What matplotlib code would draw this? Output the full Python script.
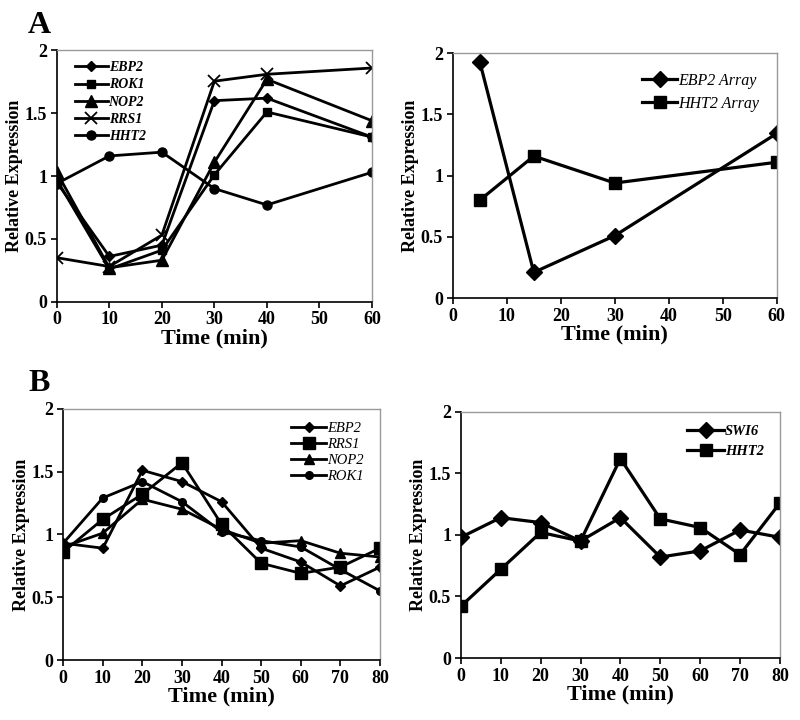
import matplotlib
matplotlib.use("Agg")
import matplotlib.pyplot as plt

plt.rcParams['font.family'] = ['Liberation Serif', 'DejaVu Serif']

# Panel A, left: time course
a1_time = [0, 10, 20, 30, 40, 60]
a1_ebp2 = [0.95, 0.36, 0.45, 1.60, 1.62, 1.31]
a1_rok1 = [0.97, 0.26, 0.41, 1.01, 1.51, 1.31]
a1_nop2 = [1.03, 0.27, 0.33, 1.11, 1.77, 1.44]
a1_rrs1 = [0.35, 0.28, 0.53, 1.755, 1.81, 1.86]
a1_hht2 = [0.94, 1.16, 1.19, 0.90, 0.77, 1.03]

# Panel A, right: array data
a2_time = [5, 15, 30, 60]
a2_ebp2 = [1.93, 0.21, 0.51, 1.345]
a2_hht2 = [0.80, 1.16, 0.94, 1.11]

# Panel B, left
b1_time = [0, 10, 20, 30, 40, 50, 60, 70, 80]
b1_ebp2 = [0.93, 0.89, 1.51, 1.42, 1.26, 0.89, 0.78, 0.59, 0.74]
b1_rrs1 = [0.86, 1.12, 1.32, 1.57, 1.08, 0.77, 0.69, 0.74, 0.89]
b1_nop2 = [0.90, 1.01, 1.28, 1.20, 1.04, 0.93, 0.95, 0.85, 0.82]
b1_rok1 = [0.93, 1.29, 1.42, 1.26, 1.02, 0.95, 0.90, 0.72, 0.55]

# Panel B, right
b2_time = [0, 10, 20, 30, 40, 50, 60, 70, 80]
b2_swi6 = [0.98, 1.14, 1.10, 0.95, 1.14, 0.82, 0.87, 1.04, 0.98]
b2_hht2 = [0.42, 0.72, 1.02, 0.95, 1.62, 1.13, 1.06, 0.84, 1.26]

fig = plt.figure(figsize=(8, 7.2), dpi=100)

LW = 2.0


def style_axes(ax, xmax, xstep):
    ax.set_xlim(0, xmax)
    ax.set_ylim(0, 2)
    ax.set_xticks(range(0, xmax + 1, xstep))
    ax.set_yticks([0, 0.5, 1, 1.5, 2])
    ax.set_yticklabels(['0', '0.5', '1', '1.5', '2'])
    for s in ('top', 'right'):
        ax.spines[s].set_color('#999999')
        ax.spines[s].set_linewidth(1.0)
    for s in ('left', 'bottom'):
        ax.spines[s].set_color('black')
        ax.spines[s].set_linewidth(1.2)
    ax.tick_params(direction='out', length=4, width=1.2, labelsize=13, pad=3)
    for lab in ax.get_xticklabels() + ax.get_yticklabels():
        lab.set_fontweight('bold')
    ax.set_xlabel('Time (min)', fontsize=16, fontweight='bold', labelpad=0)
    ax.set_ylabel('Relative Expression', fontsize=13, fontweight='bold', labelpad=1)


# ---- Panel A left
ax1 = fig.add_axes([0.071, 0.581, 0.394, 0.349])
ax1.plot(a1_time, a1_ebp2, color='black', lw=LW, marker='D', ms=5, label='EBP2')
ax1.plot(a1_time, a1_rok1, color='black', lw=LW, marker='s', ms=6, label='ROK1')
ax1.plot(a1_time, a1_nop2, color='black', lw=LW, marker='^', ms=8, label='NOP2')
ax1.plot(a1_time, a1_rrs1, color='black', lw=LW, marker='x', ms=9, mew=1.3, label='RRS1')
ax1.plot(a1_time, a1_hht2, color='black', lw=LW, marker='o', ms=6.5, label='HHT2')
style_axes(ax1, 60, 10)
ax1.legend(loc='upper left', bbox_to_anchor=(0.03, 0.99), frameon=False,
           prop={'style': 'italic', 'weight': 'bold', 'size': 10},
           handlelength=2.4, handletextpad=0.05, labelspacing=0.3,
           borderaxespad=0.2)

# ---- Panel A right
ax2 = fig.add_axes([0.566, 0.586, 0.405, 0.340])
ax2.plot(a2_time, a2_ebp2, color='black', lw=LW + 0.3, marker='D', ms=8, label='EBP2 Array')
ax2.plot(a2_time, a2_hht2, color='black', lw=LW + 0.3, marker='s', ms=9, label='HHT2 Array')
style_axes(ax2, 60, 10)
ax2.legend(loc='upper right', bbox_to_anchor=(0.99, 0.98), frameon=False,
           prop={'style': 'italic', 'size': 11.5},
           handlelength=2.2, handletextpad=0.05, labelspacing=0.45)

# ---- Panel B left
ax3 = fig.add_axes([0.079, 0.0833, 0.396, 0.349])
ax3.plot(b1_time, b1_ebp2, color='black', lw=LW, marker='D', ms=5.5, label='EBP2')
ax3.plot(b1_time, b1_rrs1, color='black', lw=LW, marker='s', ms=8, label='RRS1')
ax3.plot(b1_time, b1_nop2, color='black', lw=LW, marker='^', ms=6.5, label='NOP2')
ax3.plot(b1_time, b1_rok1, color='black', lw=LW, marker='o', ms=5.5, label='ROK1')
style_axes(ax3, 80, 10)
ax3.legend(loc='upper right', bbox_to_anchor=(0.99, 1.0), frameon=False,
           prop={'style': 'italic', 'size': 10.5},
           handlelength=2.4, handletextpad=0.05, labelspacing=0.2)

# ---- Panel B right
ax4 = fig.add_axes([0.576, 0.0861, 0.399, 0.342])
ax4.plot(b2_time, b2_swi6, color='black', lw=LW + 0.3, marker='D', ms=8, label='SWI6')
ax4.plot(b2_time, b2_hht2, color='black', lw=LW + 0.3, marker='s', ms=9, label='HHT2')
style_axes(ax4, 80, 10)
ax4.legend(loc='upper right', bbox_to_anchor=(0.99, 1.0), frameon=False,
           prop={'style': 'italic', 'weight': 'bold', 'size': 10.5},
           handlelength=2.5, handletextpad=0.05, labelspacing=0.45)

fig.text(0.035, 0.985, 'A', fontsize=23, fontweight='bold', va='top')
fig.text(0.035, 0.487, 'B', fontsize=23, fontweight='bold', va='top')

fig.savefig('out.png', dpi=100)
